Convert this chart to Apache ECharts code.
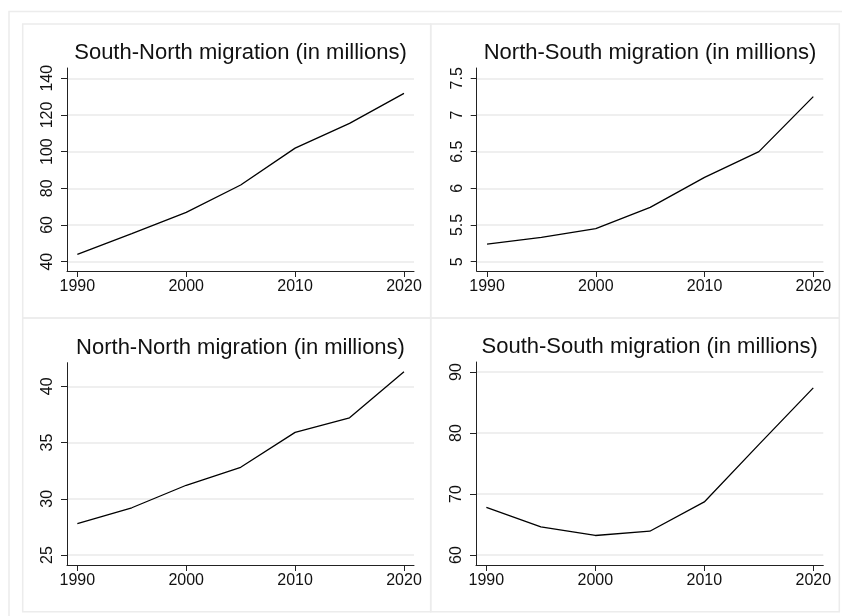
<!DOCTYPE html>
<html>
<head>
<meta charset="utf-8">
<title>Migration (in millions)</title>
<script src="https://cdn.jsdelivr.net/npm/echarts@6/dist/echarts.min.js"></script>
<style>
  html, body { margin: 0; padding: 0; background: #fff; }
  #main { width: 842px; height: 616px; }
</style>
</head>
<body>
<div id="main"></div>
<script>
// data
var years = [1990, 1995, 2000, 2005, 2010, 2015, 2020]
var southNorth = [44.0, 55.3, 66.9, 81.8, 101.9, 115.4, 131.8]
var northSouth = [5.24, 5.33, 5.45, 5.74, 6.15, 6.5, 7.25]
var northNorth = [27.8, 29.2, 31.2, 32.8, 35.9, 37.2, 41.3]
var southSouth = [67.8, 64.6, 63.2, 63.9, 68.7, 78.1, 87.4]

var xTicks = [1990, 2000, 2010, 2020]
var snTicks = [40, 60, 80, 100, 120, 140]
var nsTicks = [5, 5.5, 6, 6.5, 7, 7.5]
var nnTicks = [25, 30, 35, 40]
var ssTicks = [60, 70, 80, 90]

var titles = [
  'South-North migration (in millions)',
  'North-South migration (in millions)',
  'North-North migration (in millions)',
  'South-South migration (in millions)'
]

var FONT = 'Liberation Sans'
var BORDER = '#ececec'

// one entry per panel: plot box + y range (Stata style padding round the ticks)
var panels = [
  { left: 67, top: 68, width: 347, height: 203, ymin: 34.9, ymax: 145.6, ticks: snTicks, values: southNorth },
  { left: 476.7, top: 68, width: 346.6, height: 203, ymin: 4.873, ymax: 7.64, ticks: nsTicks, values: northSouth },
  { left: 67, top: 362.7, width: 347, height: 202.3, ymin: 24.11, ymax: 42.1, ticks: nnTicks, values: northNorth },
  { left: 476, top: 362, width: 347.3, height: 203, ymin: 58.36, ymax: 91.64, ticks: ssTicks, values: southSouth }
]

function pairs(values) {
  return years.map(function (y, i) { return [y, values[i]] })
}

var chart = echarts.init(document.getElementById('main'), null, { renderer: 'canvas' })

var option = {
  backgroundColor: '#fff',
  animation: false,
  title: [],
  grid: [],
  xAxis: [],
  yAxis: [],
  series: [],
  graphic: [
    // outer frame
    { type: 'rect', shape: { x: 9, y: 11.5, width: 860, height: 640 }, style: { fill: 'none', stroke: BORDER, lineWidth: 1.5 }, silent: true },
    // panel frames
    { type: 'rect', shape: { x: 22.7, y: 24, width: 408, height: 294 }, style: { fill: 'none', stroke: BORDER, lineWidth: 1.5 }, silent: true },
    { type: 'rect', shape: { x: 430.7, y: 24, width: 408.6, height: 294 }, style: { fill: 'none', stroke: BORDER, lineWidth: 1.5 }, silent: true },
    { type: 'rect', shape: { x: 22.7, y: 318, width: 408, height: 293.7 }, style: { fill: 'none', stroke: BORDER, lineWidth: 1.5 }, silent: true },
    { type: 'rect', shape: { x: 430.7, y: 318, width: 408.6, height: 293.7 }, style: { fill: 'none', stroke: BORDER, lineWidth: 1.5 }, silent: true }
  ]
}

panels.forEach(function (p, i) {
  option.title.push({
    text: titles[i],
    left: p.left + p.width / 2,
    top: p.top - 26,
    textAlign: 'center',
    padding: 0,
    textStyle: { fontFamily: FONT, fontSize: 22, fontWeight: 'normal', color: '#111' }
  })
  option.grid.push({
    left: p.left,
    top: p.top,
    width: p.width,
    height: p.height,
    containLabel: false
  })
  option.xAxis.push({
    type: 'value',
    gridIndex: i,
    min: 1989.05,
    max: 2020.92,
    axisLine: { show: true, onZero: false, lineStyle: { color: '#222', width: 1 } },
    axisTick: { show: true, length: 6, customValues: xTicks, lineStyle: { color: '#222', width: 1 } },
    axisLabel: { customValues: xTicks, margin: 8, fontFamily: FONT, fontSize: 16, color: '#111',
      formatter: function (v) { return String(v) } },
    splitLine: { show: false }
  })
  option.yAxis.push({
    type: 'value',
    gridIndex: i,
    min: p.ymin,
    max: p.ymax,
    axisLine: { show: true, onZero: false, lineStyle: { color: '#222', width: 1 } },
    axisTick: { show: true, length: 6, customValues: p.ticks, lineStyle: { color: '#222', width: 1 } },
    axisLabel: { customValues: p.ticks, rotate: 90, margin: 11, fontFamily: FONT, fontSize: 16, color: '#111' },
    splitLine: { show: true, lineStyle: { color: '#eaeaea', width: 1.5 } }
  })
  option.series.push({
    type: 'line',
    xAxisIndex: i,
    yAxisIndex: i,
    data: pairs(p.values),
    symbol: 'none',
    lineStyle: { color: '#000', width: 1.3 },
    silent: true
  })
})

chart.setOption(option)
</script>
</body>
</html>
